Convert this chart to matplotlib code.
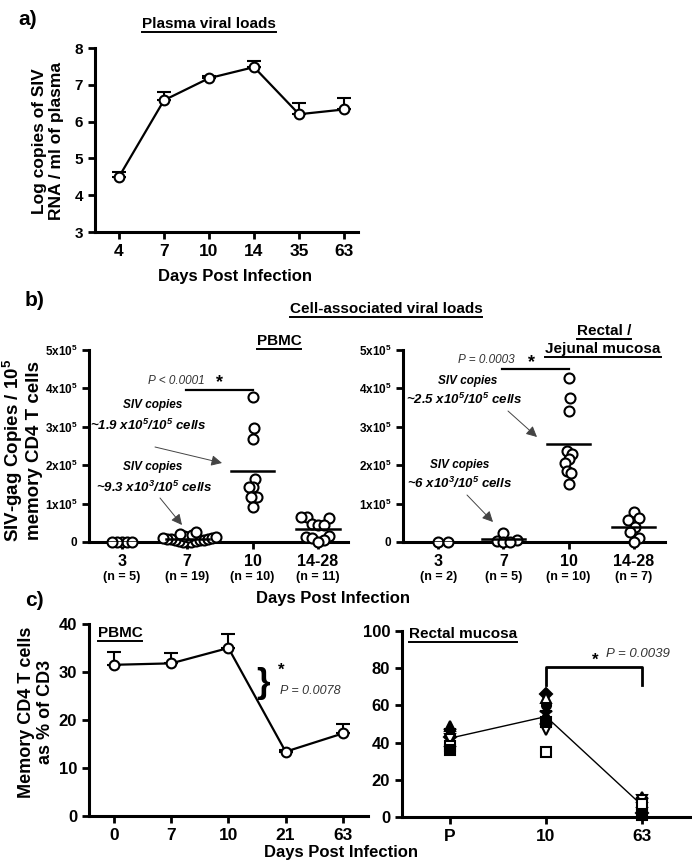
import numpy as np
import matplotlib
matplotlib.use("Agg")
import matplotlib.pyplot as plt
from matplotlib.lines import Line2D
from matplotlib.patches import FancyArrowPatch

plt.rcParams['font.family'] = ['Liberation Sans', 'DejaVu Sans']
plt.rcParams['font.weight'] = 'bold'
plt.rcParams['mathtext.default'] = 'regular'

# ---- data ----
# a) plasma viral loads
days_a = ['4', '7', '10', '14', '35', '63']
plasma_mean = [4.5, 6.58, 7.18, 7.48, 6.2, 6.33]
plasma_err = [0.12, 0.22, 0.07, 0.17, 0.3, 0.32]

# b) cell-associated viral loads (SIV-gag copies / 1e5 memory CD4 T cells)
groups_b = ['3', '7', '10', '14-28']
pbmc_d3 = [0, 0, 0, 0, 0]
pbmc_d7 = [0, 0, 1e3, 2e3, 3e3, 4e3, 5e3, 6e3, 7e3, 8e3, 9e3, 1e4, 1.1e4,
           1.2e4, 1.4e4, 1.5e4, 1.8e4, 2.1e4, 2.6e4]
pbmc_d10 = [3.77e5, 2.98e5, 2.68e5, 1.65e5, 1.44e5, 1.44e5, 1.17e5, 1.17e5,
            1.17e5, 0.92e5]
pbmc_d14 = [6.5e4, 6.5e4, 6.3e4, 4.6e4, 4.4e4, 4.5e4, 1.5e4, 1.3e4, 1.0e4,
            0.6e4, 0]
rect_d3 = [0, 0]
rect_d7 = [2.4e4, 6e3, 3e3, 0, 0]
rect_d10 = [4.28e5, 3.74e5, 3.41e5, 2.37e5, 2.28e5, 2.15e5, 2.07e5, 1.85e5,
            1.79e5, 1.5e5]
rect_d14 = [7.9e4, 6.3e4, 5.7e4, 3.8e4, 2.5e4, 1.0e4, 0]
pbmc_b = [pbmc_d3, pbmc_d7, pbmc_d10, pbmc_d14]
rect_b = [rect_d3, rect_d7, rect_d10, rect_d14]

# c) memory CD4 T cells as % of CD3
days_c = ['0', '7', '10', '21', '63']
cd4_pbmc = [31.5, 31.8, 35.0, 13.4, 17.2]
cd4_pbmc_err = [2.6, 2.2, 3.0, 0.3, 2.0]
days_rect = ['P', '10', '63']
cd4_rect_pre = [49, 46, 43, 44, 41, 42, 38, 36]
cd4_rect_d10 = [53, 56, 66, 60, 64, 47, 35, 51]
cd4_rect_d63 = [11, 9, 2, 3, 8, 9, 7, 1]
animal_marker = ['^', '*', 'D', 'o', '^', 'v', 's', 's']
animal_filled = [True, True, True, True, False, False, False, True]

# ---- layout helpers (pixel positions of the 692x865 figure) ----
W, H = 692, 865
fig = plt.figure(figsize=(W / 100, H / 100), dpi=100)


def fx(x):
    return x / W


def fy(y):
    return 1 - y / H


def add_ax(x0, x1, y0, y1):
    ax = fig.add_axes([fx(x0), fy(y1), (x1 - x0) / W, (y1 - y0) / H])
    for s in ['top', 'right']:
        ax.spines[s].set_visible(False)
    for s in ['left', 'bottom']:
        ax.spines[s].set_linewidth(2.2)
    ax.tick_params(direction='out', length=5, width=2)
    return ax


def ftext(x, y, s, **kw):
    return fig.text(fx(x), fy(y), s, **kw)


underlined = []


def utitle(x, y, s, size):
    t = ftext(x, y, s, ha='center', va='baseline', fontsize=size,
              fontweight='bold')
    underlined.append(t)
    return t


def swarm(ax, xc, vals, dmin):
    # simple beeswarm: spread points sideways so that centres stay dmin px apart
    pts = ax.transData.transform(np.column_stack([np.full(len(vals), xc), vals]))
    ys = pts[:, 1]
    x0 = pts[0, 0]
    placed = []
    dx = np.zeros(len(vals))
    for i in np.argsort(ys):
        y = ys[i]
        cands = [0.0]
        for px, py in placed:
            dy = abs(y - py)
            if dy < dmin:
                h = np.sqrt(dmin ** 2 - dy ** 2)
                cands += [px + h, px - h]
        cands.sort(key=abs)
        for c in cands:
            if all((c - px) ** 2 + (y - py) ** 2 >= dmin ** 2 - 1e-6
                   for px, py in placed):
                break
        placed.append((c, y))
        dx[i] = c
    return ax.transData.inverted().transform(np.column_stack([x0 + dx, ys]))[:, 0]


# ---- a) ----
ax = add_ax(95, 358, 48, 232)
xa = np.arange(len(days_a))
ax.errorbar(xa, plasma_mean, yerr=[np.zeros(len(xa)), plasma_err], fmt='none',
            ecolor='black', elinewidth=1.5, capsize=5, capthick=1.5)
ax.plot(xa, plasma_mean, '-o', color='black', lw=1.6, ms=7, mfc='white',
        mew=1.5, zorder=3)
ax.set_xlim(-0.533, 5.31)
ax.set_ylim(3, 8)
ax.set_xticks(xa)
ax.set_xticklabels(days_a, fontsize=12.5)
ax.set_yticks(range(3, 9))
ax.tick_params(axis='y', labelsize=11)
ftext(18, 25, 'a)', fontsize=15, fontweight='bold')
utitle(209, 28, 'Plasma viral loads', 11)
ftext(235, 277, 'Days Post Infection', fontsize=12, ha='center', va='center')
ftext(48, 141, 'Log copies of SIV\nRNA / ml of plasma', fontsize=12.5,
      ha='center', va='center', rotation=90, linespacing=1.1)

# ---- b) ----
def cell_panel(x0, x1, data, spacing):
    ax = add_ax(x0, x1, 350, 542)
    ax.set_ylim(0, 5e5)
    ax.set_yticks(np.arange(0, 6e5, 1e5))
    ax.set_yticklabels(['0'] + ['%dx10$^5$' % k for k in range(1, 6)],
                       fontsize=8.5)
    ax.set_xticks(range(len(groups_b)))
    ax.set_xticklabels(groups_b, fontsize=11.5)
    ax.tick_params(axis='x', pad=3.5)
    for i, vals in enumerate(data):
        xs = swarm(ax, i, vals, spacing[i])
        ax.scatter(xs, vals, s=52, facecolor='white', edgecolor='black',
                   linewidth=1.5, zorder=3, clip_on=False)
        m = np.mean(vals)
        ax.plot([i - 0.33, i + 0.33], [m, m], color='black', lw=1.8, zorder=4)
        ax.text(i, -0.18, '(n = %d)' % len(vals), transform=ax.get_xaxis_transform(),
                ha='center', va='center', fontsize=9)
    return ax


ax_p = cell_panel(89, 348, pbmc_b, [6.3, 5.5, 15, 12])
ax_r = cell_panel(403, 665, rect_b, [13, 9, 16, 13])
ax_p.set_xlim(-0.505, 3.46)
ax_r.set_xlim(-0.54, 3.48)

ftext(25, 300, 'b)', fontsize=15, fontweight='bold', va='center')
utitle(386, 313, 'Cell-associated viral loads', 11)
utitle(279, 345, 'PBMC', 11)
utitle(604, 335, 'Rectal /', 11)
utitle(603, 353, 'Jejunal mucosa', 11)
ftext(22, 450, 'SIV-gag Copies / 10$^5$\nmemory CD4 T cells', fontsize=13.5,
      ha='center', va='center', rotation=90, linespacing=1.1)
ftext(333, 598, 'Days Post Infection', fontsize=12, ha='center', va='center')

# significance bars
ax_p.plot([0.98, 2], [3.97e5, 3.97e5], color='black', lw=1.6)
ax_r.plot([0.98, 2], [4.5e5, 4.5e5], color='black', lw=1.6)
ftext(148, 381, 'P < 0.0001', fontsize=8.5, style='italic', fontweight='normal',
      color='#333333', va='center')
ftext(219, 383, '*', fontsize=13, va='center', ha='center')
ftext(458, 360, 'P = 0.0003', fontsize=8.5, style='italic', fontweight='normal',
      color='#333333', va='center')
ftext(531, 363, '*', fontsize=13, va='center', ha='center')

ann = [(153, 405, 148, 425, '~1.9 x10$^5$/10$^5$ cells', (155, 447), (222, 463)),
       (153, 467, 154, 487, '~9.3 x10$^3$/10$^5$ cells', (160, 498), (182, 525)),
       (468, 381, 464, 399, '~2.5 x10$^5$/10$^5$ cells', (508, 411), (537, 437)),
       (460, 465, 460, 483, '~6 x10$^3$/10$^5$ cells', (467, 495), (493, 522))]
for x1, y1, x2, y2, s, a0, a1 in ann:
    ftext(x1, y1, 'SIV copies', fontsize=8.5, style='italic', ha='center', va='center')
    ftext(x2, y2, s, fontsize=9.5, style='italic', ha='center', va='center')
    fig.add_artist(FancyArrowPatch(
        (fx(a0[0]), fy(a0[1])), (fx(a1[0]), fy(a1[1])), transform=fig.transFigure,
        arrowstyle='-|>', mutation_scale=16, lw=0.7, color='#444444',
        shrinkA=0, shrinkB=0))

# ---- c) left: PBMC ----
ax = add_ax(89, 368, 624, 816)
xc = np.arange(len(days_c))
ax.errorbar(xc, cd4_pbmc, yerr=[np.zeros(len(xc)), cd4_pbmc_err], fmt='none',
            ecolor='black', elinewidth=1.5, capsize=5, capthick=1.5)
ax.plot(xc, cd4_pbmc, '-o', color='black', lw=1.6, ms=7, mfc='white', mew=1.5,
        zorder=3)
ax.set_xlim(-0.437, 4.44)
ax.set_ylim(0, 40)
ax.set_xticks(xc)
ax.set_xticklabels(days_c, fontsize=12.5)
ax.set_yticks(range(0, 41, 10))
ax.tick_params(axis='y', labelsize=12)
ax.text(2.6, 27.5, '}', fontsize=25, fontweight='bold', ha='center', va='center')
ax.text(2.92, 30.4, '*', fontsize=12, ha='center', va='center')
ax.text(2.9, 26.0, 'P = 0.0078', fontsize=9, style='italic', fontweight='normal',
        color='#333333', va='center')

ftext(25, 600, 'c)', fontsize=15, fontweight='bold', va='center')
utitle(120, 637, 'PBMC', 11)
ftext(36, 712, 'Memory CD4 T cells\nas % of CD3', fontsize=13, ha='center',
      va='center', rotation=90, linespacing=1.1)
ftext(341, 853, 'Days Post Infection', fontsize=12, ha='center', va='center')

# ---- c) right: rectal mucosa ----
ax = add_ax(402, 690, 631, 817)
xr = np.arange(len(days_rect))
vals_r = np.array([cd4_rect_pre, cd4_rect_d10, cd4_rect_d63])
ax.plot(xr, vals_r.mean(axis=1), color='black', lw=1.0, zorder=2)
for j in range(vals_r.shape[1]):
    ax.plot(xr, vals_r[:, j], linestyle='none', marker=animal_marker[j],
            ms=9 if animal_marker[j] == '*' else 6.5,
            mfc='black' if animal_filled[j] else 'white', mec='black', mew=1.5,
            zorder=3, clip_on=False)
ax.plot([1, 1, 2, 2], [71, 80.6, 80.6, 71], color='black', lw=2)
ax.text(1.51, 84, '*', fontsize=12, ha='center', va='center')
ax.text(1.62, 87.5, 'P = 0.0039', fontsize=9.5, style='italic', fontweight='normal',
        color='#333333', va='center')
ax.set_xlim(-0.5, 2.5)
ax.set_ylim(0, 100)
ax.set_xticks(xr)
ax.set_xticklabels(days_rect, fontsize=12.5)
ax.set_yticks(range(0, 101, 20))
ax.tick_params(axis='y', labelsize=12)
utitle(463, 638, 'Rectal mucosa', 11)

# underline the section titles
fig.canvas.draw()
for t in underlined:
    bb = t.get_window_extent()
    xb, yb = t.get_position()
    yl = yb - 3.5 / H
    fig.add_artist(Line2D([bb.x0 / W, bb.x1 / W], [yl, yl], color='black',
                          lw=1.4, transform=fig.transFigure))

fig.savefig('out.png', dpi=100)
